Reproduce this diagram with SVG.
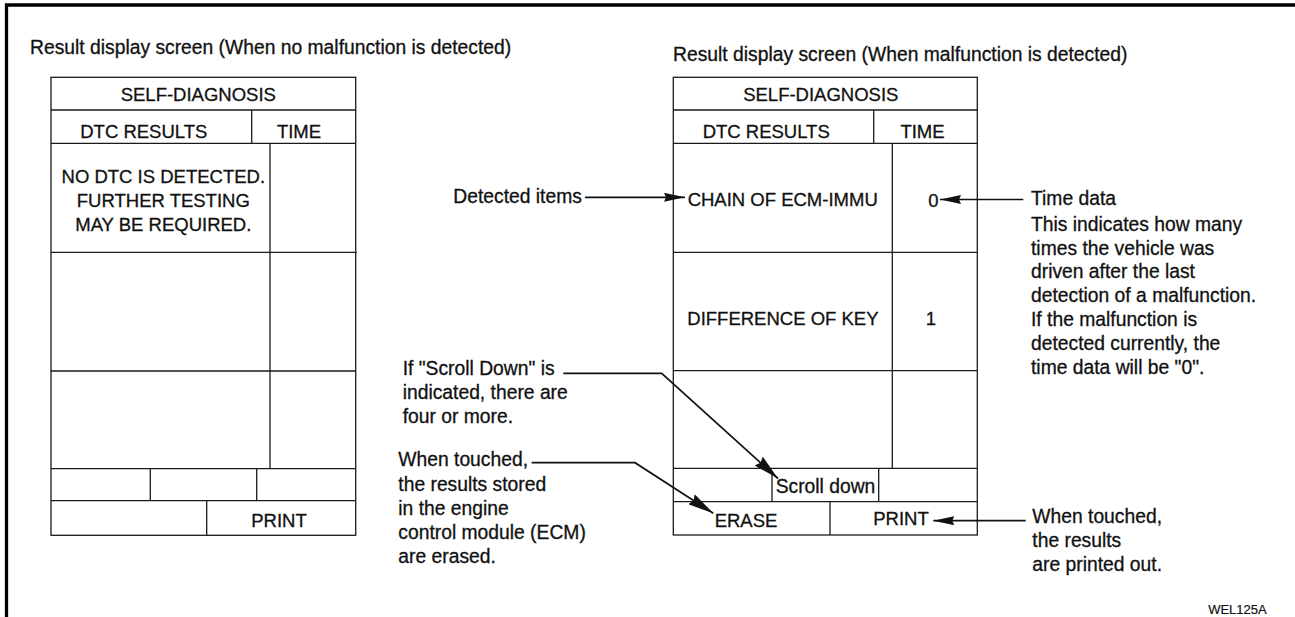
<svg xmlns="http://www.w3.org/2000/svg" width="1295" height="617" viewBox="0 0 1295 617">
<style>
.bg{fill:#fff}
.frame{stroke:#000;stroke-width:3.3;fill:none}
.ln{stroke:#1a1a1a;stroke-width:1.3;fill:none}
.cn{stroke:#111;stroke-width:1.7;fill:none}
.hd{fill:#111}
text{font-family:"Liberation Sans",Arial,Helvetica,sans-serif;fill:#111;stroke:#111;stroke-width:0.3}
.tb{font-size:18.5px}
.an{font-size:19.3px}
.m{text-anchor:middle}
.sm{font-size:13px;text-anchor:end;stroke-width:0.2}
</style>
<defs>
<marker id="ah" markerUnits="userSpaceOnUse" viewBox="0 0 21 9" markerWidth="21" markerHeight="9" refX="21" refY="4.5" orient="auto">
<path class="hd" d="M0,0 L21,4.5 L0,9 L2,4.5 z"/>
</marker>
<marker id="ahd" markerUnits="userSpaceOnUse" viewBox="0 0 26 12" markerWidth="26" markerHeight="12" refX="26" refY="6" orient="auto">
<path class="hd" d="M0,0 L26,6 L0,12 L2.5,6 z"/>
</marker>
</defs>
<rect class="bg" x="0" y="0" width="1295" height="617"/>
<path class="frame" d="M6.5,617 V5 H1295"/>

<text class="an" x="30" y="54">Result display screen (When no malfunction is detected)</text>
<text class="an" x="673" y="61">Result display screen (When malfunction is detected)</text>

<g id="left-screen">
<rect class="ln" x="51" y="77.3" width="304.7" height="458"/>
<path class="ln" d="M51,110 H355.7 M51,143.3 H355.7 M251.7,110 V143.3 M270,143.3 V468.7 M51,252.3 H356.7 M51,371 H355.7 M51,468.7 H355.7 M51,500.7 H355.7 M150.3,468.7 V500.7 M256.7,468.7 V500.7 M206.7,500.7 V535.3"/>
<text class="tb m" x="198.3" y="100.7">SELF-DIAGNOSIS</text>
<text class="tb m" x="143.8" y="137.5">DTC RESULTS</text>
<text class="tb m" x="299" y="137.5">TIME</text>
<text class="tb m" x="163.3" y="183.3">NO DTC IS DETECTED.</text>
<text class="tb m" x="163.3" y="206.7">FURTHER TESTING</text>
<text class="tb m" x="163.3" y="230.7">MAY BE REQUIRED.</text>
<text class="tb m" x="279" y="526.7">PRINT</text>
</g>

<g id="right-screen">
<rect class="ln" x="673.3" y="77.3" width="304" height="457.7"/>
<path class="ln" d="M673.3,110 H977.3 M673.3,143.3 H977.3 M873.7,110 V143.3 M892.3,143.3 V468.3 M673.3,252.3 H977.3 M673.3,370.7 H977.3 M673.3,468.3 H977.3 M673.3,501.7 H977.3 M772,475 V501.7 M878.7,468.3 V501.7 M830,501.7 V535"/>
<text class="tb m" x="820.8" y="100.7">SELF-DIAGNOSIS</text>
<text class="tb m" x="766.2" y="137.5">DTC RESULTS</text>
<text class="tb m" x="922.5" y="137.5">TIME</text>
<text class="tb m" x="782.7" y="205.7">CHAIN OF ECM-IMMU</text>
<text class="tb m" x="933.3" y="206.7">0</text>
<text class="tb m" x="782.9" y="325">DIFFERENCE OF KEY</text>
<text class="tb m" x="931" y="325">1</text>
<text class="an m" x="825.5" y="493.3">Scroll down</text>
<text class="tb m" x="746" y="526.7">ERASE</text>
<text class="tb m" x="901" y="525">PRINT</text>
</g>

<g id="note-detected">
<text class="an" x="453.3" y="202.7">Detected items</text>
</g>
<g id="note-scroll">
<text class="an" x="402.7" y="375">If "Scroll Down" is</text>
<text class="an" x="402.7" y="399.3">indicated, there are</text>
<text class="an" x="402.7" y="423.3">four or more.</text>
</g>
<g id="note-erase">
<text class="an" x="398.3" y="466">When touched,</text>
<text class="an" x="398.3" y="490.7">the results stored</text>
<text class="an" x="398.3" y="515">in the engine</text>
<text class="an" x="398.3" y="539">control module (ECM)</text>
<text class="an" x="398.3" y="562.5">are erased.</text>
</g>
<g id="note-time">
<text class="an" x="1031" y="205">Time data</text>
<text class="an" x="1031" y="230.7">This indicates how many</text>
<text class="an" x="1031" y="254.5">times the vehicle was</text>
<text class="an" x="1031" y="278">driven after the last</text>
<text class="an" x="1031" y="302">detection of a malfunction.</text>
<text class="an" x="1031" y="326">If the malfunction is</text>
<text class="an" x="1031" y="350">detected currently, the</text>
<text class="an" x="1031" y="374">time data will be "0".</text>
</g>
<g id="note-print">
<text class="an" x="1032.3" y="522.7">When touched,</text>
<text class="an" x="1032.3" y="546.7">the results</text>
<text class="an" x="1032.3" y="570.7">are printed out.</text>
</g>
<text class="sm" x="1266.7" y="614">WEL125A</text>

<g id="connectors">
<path class="cn" d="M585,197.3 H685" marker-end="url(#ah)"/>
<path class="cn" d="M1023.3,199.5 H940" marker-end="url(#ah)"/>
<path class="cn" d="M1025.7,520.7 H933.3" marker-end="url(#ah)"/>
<path class="cn" d="M563.3,373.3 H661.7 L778,478.5" marker-end="url(#ahd)"/>
<path class="cn" d="M531.7,462.7 H635 L713.3,513.3" marker-end="url(#ahd)"/>
</g>
</svg>
